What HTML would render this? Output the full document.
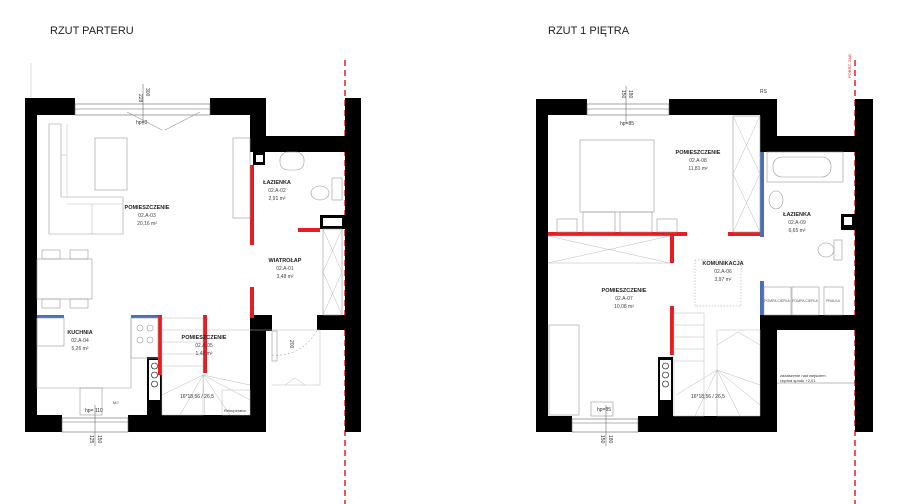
<!DOCTYPE html>
<html><head><meta charset="utf-8"><style>
body{margin:0;background:#fff;width:900px;height:504px;overflow:hidden}
svg{display:block}
text{font-family:"Liberation Sans",sans-serif}
.t{font-size:11px;fill:#222}
.b{font-size:5.5px;font-weight:bold;fill:#222;text-anchor:middle}
.s{font-size:5px;fill:#444;text-anchor:middle}
.f{fill:none;stroke:#999;stroke-width:0.6}
.g{fill:none;stroke:#bbb;stroke-width:0.5}
</style></head><body>
<svg width="900" height="504" viewBox="0 0 900 504" xmlns="http://www.w3.org/2000/svg">
<text class="t" x="50" y="34">RZUT PARTERU</text>
<text class="t" x="548" y="34">RZUT 1 PIĘTRA</text>

<!-- ================= LEFT PLAN ================= -->
<g>
<line x1="345" y1="60" x2="345" y2="504" stroke="#e31e24" stroke-width="1.5" stroke-dasharray="6,4"/>
<line x1="31" y1="63" x2="31" y2="97" stroke="#bbb" stroke-width="0.5"/>
<g fill="#000">
<rect x="25" y="98" width="50" height="17"/>
<rect x="210" y="98" width="56" height="17"/>
<rect x="25" y="98" width="12" height="334"/>
<rect x="250" y="98" width="16" height="54"/>
<rect x="250" y="136" width="111" height="16"/>
<rect x="345" y="98" width="16" height="54"/>
<rect x="345" y="136" width="16" height="180"/>
<rect x="317" y="315" width="44" height="15"/>
<rect x="345" y="315" width="16" height="117"/>
<rect x="250" y="315" width="22" height="16"/>
<rect x="250" y="315" width="16" height="117"/>
<rect x="25" y="415" width="37" height="17"/>
<rect x="128" y="415" width="138" height="17"/>
<rect x="147" y="357" width="15" height="58"/>
<rect x="320" y="215" width="25" height="14"/>
<rect x="253" y="152" width="12" height="13"/>
</g>
<rect x="75" y="104" width="135" height="11" fill="#fff" stroke="#666" stroke-width="0.6"/>
<line x1="75" y1="109" x2="210" y2="109" stroke="#666" stroke-width="0.5"/>
<rect x="62" y="418" width="66" height="14" fill="#fff" stroke="#666" stroke-width="0.6"/>
<line x1="62" y1="422" x2="128" y2="422" stroke="#666" stroke-width="0.5"/>
<line x1="143" y1="84" x2="143" y2="125" stroke="#555" stroke-width="0.5"/>
<text x="139" y="94" font-size="5" transform="rotate(90 139 94)" fill="#333">228</text>
<text x="146" y="88" font-size="5" transform="rotate(90 146 88)" fill="#333">300</text>
<text x="136" y="124" font-size="5" fill="#333">hp=0</text>
<path d="M127 112 L162 130 M165 130 L200 112" class="f"/>
<rect x="149" y="360" width="11" height="40" fill="#fff"/>
<circle cx="154.5" cy="366" r="3" fill="none" stroke="#000" stroke-width="0.6"/>
<circle cx="154.5" cy="375" r="3" fill="none" stroke="#000" stroke-width="0.6"/>
<circle cx="154.5" cy="384" r="3" fill="none" stroke="#000" stroke-width="0.6"/>
<rect x="256" y="155" width="7" height="7" fill="#fff"/>
<rect x="323" y="218" width="19" height="8" fill="#fff"/>
<g fill="#e31e24">
<rect x="250" y="165" width="4" height="80"/>
<rect x="250" y="287" width="4" height="31"/>
<rect x="298" y="228" width="22" height="4"/>
<rect x="158" y="315" width="4" height="60"/>
<rect x="203" y="315" width="4" height="58"/>
</g>
<g fill="#4a6fb5">
<rect x="37" y="315" width="27" height="3"/>
<rect x="131" y="315" width="27" height="3"/>
</g>
<path d="M49 124 L61 124 L61 197 L123 197 L123 234 L49 234 Z" class="f"/>
<path d="M67 124 L67 197 M61 155 L67 155 M67 204 L123 204 M92 204 L92 234" class="g"/>
<rect x="95" y="138" width="32" height="52" class="f"/>
<rect x="233" y="138" width="17" height="80" class="f"/>
<rect x="37" y="259" width="55" height="40" class="f"/>
<rect x="42" y="250" width="18" height="9" class="f"/><rect x="70" y="250" width="18" height="9" class="f"/>
<rect x="42" y="299" width="18" height="9" class="f"/><rect x="70" y="299" width="18" height="9" class="f"/>
<path d="M37 318 L37 388 L131 388 L131 318" class="f"/>
<rect x="37" y="318" width="27" height="28" class="f"/>
<rect x="131" y="318" width="27" height="40" class="f"/>
<circle cx="140" cy="328" r="3" class="f"/><circle cx="150" cy="328" r="3" class="f"/>
<circle cx="140" cy="340" r="3" class="f"/><circle cx="150" cy="340" r="3" class="f"/>
<rect x="80" y="388" width="22" height="27" class="f"/>
<rect x="280" y="152" width="24" height="18" rx="8" class="f"/>
<ellipse cx="320" cy="193" rx="9" ry="7" class="f"/>
<rect x="332" y="178" width="10" height="22" class="f"/>
<rect x="323" y="229" width="19" height="86" class="f"/>
<path d="M323 229 L342 272 M342 229 L323 272 M323 272 L342 315 M342 272 L323 315" class="g"/>
<g class="g">
<rect x="162" y="318" width="41" height="97"/>
<line x1="162" y1="330" x2="203" y2="330"/><line x1="162" y1="342" x2="203" y2="342"/>
<line x1="162" y1="354" x2="203" y2="354"/><line x1="162" y1="366" x2="203" y2="366"/>
<path d="M203 375 L162 395 M203 375 L180 415 M203 375 L205 415 M203 375 L230 415 M203 375 L250 400 M203 375 L250 385"/>
<rect x="222" y="390" width="28" height="25"/>
<path d="M207 330 L320 330 L320 385 L272 385"/>
<path d="M285 385 L295 378 L305 385"/>
</g>
<path d="M272 355 A 45 45 0 0 0 317 330" fill="none" stroke="#888" stroke-width="0.5" stroke-dasharray="2,2"/>
<rect x="272" y="331" width="5" height="30" class="f"/>
<text x="290" y="340" font-size="5" transform="rotate(90 290 340)" fill="#333">200</text>
<text class="b" x="147" y="209">POMIESZCZENIE</text>
<text class="s" x="147" y="217">02.A-03</text>
<text class="s" x="147" y="225">20,16 m²</text>
<text class="b" x="277" y="184">ŁAZIENKA</text>
<text class="s" x="277" y="192">02.A-02</text>
<text class="s" x="277" y="200">2,91 m²</text>
<text class="b" x="285" y="262">WIATROŁAP</text>
<text class="s" x="285" y="270">02.A-01</text>
<text class="s" x="285" y="278">3,48 m²</text>
<text class="b" x="80" y="334">KUCHNIA</text>
<text class="s" x="80" y="342">02.A-04</text>
<text class="s" x="80" y="350">5,26 m²</text>
<text class="b" x="204" y="339">POMIESZCZENIE</text>
<text class="s" x="204" y="347">02.A-05</text>
<text class="s" x="204" y="355">1,48 m²</text>
<text x="180" y="398" font-size="5" fill="#333">16*18,56 / 26,5</text>
<text x="85" y="412" font-size="5" fill="#333">hp= 110</text>
<text x="224" y="412" font-size="4" fill="#333">Rekuperator</text>
<text x="113" y="404" font-size="4" fill="#555">M2</text>
<line x1="95" y1="405" x2="95" y2="446" stroke="#555" stroke-width="0.5"/>
<text x="90" y="435" font-size="5" transform="rotate(90 90 435)" fill="#333">125</text>
<text x="98" y="435" font-size="5" transform="rotate(90 98 435)" fill="#333">150</text>
</g>

<!-- ================= RIGHT PLAN ================= -->
<g>
<line x1="855" y1="60" x2="855" y2="504" stroke="#e31e24" stroke-width="1.5" stroke-dasharray="6,4"/>
<text x="851" y="78" font-size="4" fill="#e31e24" transform="rotate(-90 851 78)">POBRZ. ZAB.</text>
<g fill="#000">
<rect x="536" y="99" width="51" height="16"/>
<rect x="669" y="99" width="108" height="16"/>
<rect x="536" y="99" width="12" height="333"/>
<rect x="760" y="99" width="17" height="53"/>
<rect x="760" y="136" width="113" height="16"/>
<rect x="855" y="99" width="18" height="333"/>
<rect x="760" y="315" width="95" height="15"/>
<rect x="760" y="315" width="17" height="117"/>
<rect x="536" y="416" width="36" height="16"/>
<rect x="638" y="416" width="139" height="16"/>
<rect x="658" y="357" width="15" height="59"/>
<rect x="841" y="214" width="14" height="16"/>
</g>
<rect x="587" y="104" width="82" height="11" fill="#fff" stroke="#666" stroke-width="0.6"/>
<line x1="587" y1="109" x2="669" y2="109" stroke="#666" stroke-width="0.5"/>
<rect x="572" y="419" width="66" height="13" fill="#fff" stroke="#666" stroke-width="0.6"/>
<line x1="572" y1="423" x2="638" y2="423" stroke="#666" stroke-width="0.5"/>
<line x1="626" y1="86" x2="626" y2="123" stroke="#555" stroke-width="0.5"/>
<text x="622" y="90" font-size="5" transform="rotate(90 622 90)" fill="#333">150</text>
<text x="629" y="90" font-size="5" transform="rotate(90 629 90)" fill="#333">180</text>
<text x="620" y="125" font-size="5" fill="#333">hp=85</text>
<rect x="660" y="360" width="11" height="40" fill="#fff"/>
<circle cx="665.5" cy="366" r="3" fill="none" stroke="#000" stroke-width="0.6"/>
<circle cx="665.5" cy="375" r="3" fill="none" stroke="#000" stroke-width="0.6"/>
<circle cx="665.5" cy="384" r="3" fill="none" stroke="#000" stroke-width="0.6"/>
<rect x="844" y="217" width="8" height="8" fill="#fff"/>
<g fill="#e31e24">
<rect x="548" y="232" width="139" height="4"/>
<rect x="670" y="232" width="4" height="31"/>
<rect x="728" y="232" width="32" height="4"/>
<rect x="670" y="306" width="4" height="49"/>
</g>
<g fill="#4a6fb5">
<rect x="760" y="152" width="4" height="85"/>
<rect x="760" y="281" width="4" height="34"/>
</g>
<rect x="580" y="140" width="74" height="72" class="f"/>
<rect x="583" y="212" width="32" height="20" class="f"/><rect x="620" y="212" width="32" height="20" class="f"/>
<rect x="557" y="219" width="20" height="13" class="f"/><rect x="657" y="219" width="20" height="13" class="f"/>
<rect x="733" y="116" width="27" height="116" class="f"/>
<path d="M733 116 L760 174 L733 232 M760 116 L733 174 L760 232" class="g"/>
<path d="M548 236 L670 236 M548 263 L670 263 M548 236 L670 263 M670 236 L548 263" class="g"/>
<rect x="767" y="152" width="76" height="30" class="f"/>
<rect x="773" y="157" width="58" height="20" rx="9" class="f"/>
<ellipse cx="776" cy="200" rx="7" ry="9" class="f"/>
<ellipse cx="826" cy="250" rx="8" ry="7" class="f"/>
<rect x="834" y="240" width="8" height="20" class="f"/>
<rect x="764" y="287" width="27" height="28" class="f"/><rect x="792" y="287" width="27" height="28" class="f"/><rect x="824" y="287" width="19" height="28" class="f"/>
<text x="777" y="302" font-size="3.5" fill="#555" text-anchor="middle">POMPA CIEPŁA</text>
<text x="805" y="302" font-size="3.5" fill="#555" text-anchor="middle">POMPA CIEPŁA</text>
<text x="833" y="302" font-size="3.5" fill="#555" text-anchor="middle">PRALKA</text>
<rect x="549" y="325" width="30" height="90" class="f"/>
<rect x="591" y="402" width="22" height="14" class="f"/>
<rect x="695" y="260" width="46" height="46" fill="none" stroke="#999" stroke-width="0.5" stroke-dasharray="1.5,1.5"/>
<g class="g">
<rect x="674" y="313" width="30" height="103"/>
<line x1="674" y1="325" x2="704" y2="325"/><line x1="674" y1="337" x2="704" y2="337"/>
<line x1="674" y1="349" x2="704" y2="349"/><line x1="674" y1="361" x2="704" y2="361"/>
<rect x="717" y="330" width="43" height="86"/>
<path d="M717 345 L738 332 L760 345"/>
<path d="M717 370 L676 395 M717 370 L695 416 M717 370 L717 416 M717 370 L740 416 M717 370 L760 405 M717 370 L760 385"/>
</g>
<line x1="777" y1="383" x2="855" y2="383" stroke="#555" stroke-width="0.4"/>
<text x="780" y="377" font-size="4" fill="#333">zadaszenie nad wejściem</text>
<text x="780" y="382" font-size="4" fill="#333">rzędna spodu +2,01</text>
<text class="b" x="698" y="154">POMIESZCZENIE</text>
<text class="s" x="698" y="162">02.A-08</text>
<text class="s" x="698" y="170">11,81 m²</text>
<text class="b" x="797" y="216">ŁAZIENKA</text>
<text class="s" x="797" y="224">02.A-09</text>
<text class="s" x="797" y="232">6,65 m²</text>
<text class="b" x="723" y="265">KOMUNIKACJA</text>
<text class="s" x="723" y="273">02.A-06</text>
<text class="s" x="723" y="281">3,97 m²</text>
<text class="b" x="624" y="292">POMIESZCZENIE</text>
<text class="s" x="624" y="300">02.A-07</text>
<text class="s" x="624" y="308">10,08 m²</text>
<text x="691" y="398" font-size="5" fill="#333">16*18,56 / 26,5</text>
<text x="597" y="411" font-size="5" fill="#333">hp=85</text>
<text x="760" y="93" font-size="5" fill="#333">RS</text>
<line x1="606" y1="405" x2="606" y2="446" stroke="#555" stroke-width="0.5"/>
<text x="601" y="435" font-size="5" transform="rotate(90 601 435)" fill="#333">150</text>
<text x="609" y="435" font-size="5" transform="rotate(90 609 435)" fill="#333">180</text>
</g>
</svg>
</body></html>
